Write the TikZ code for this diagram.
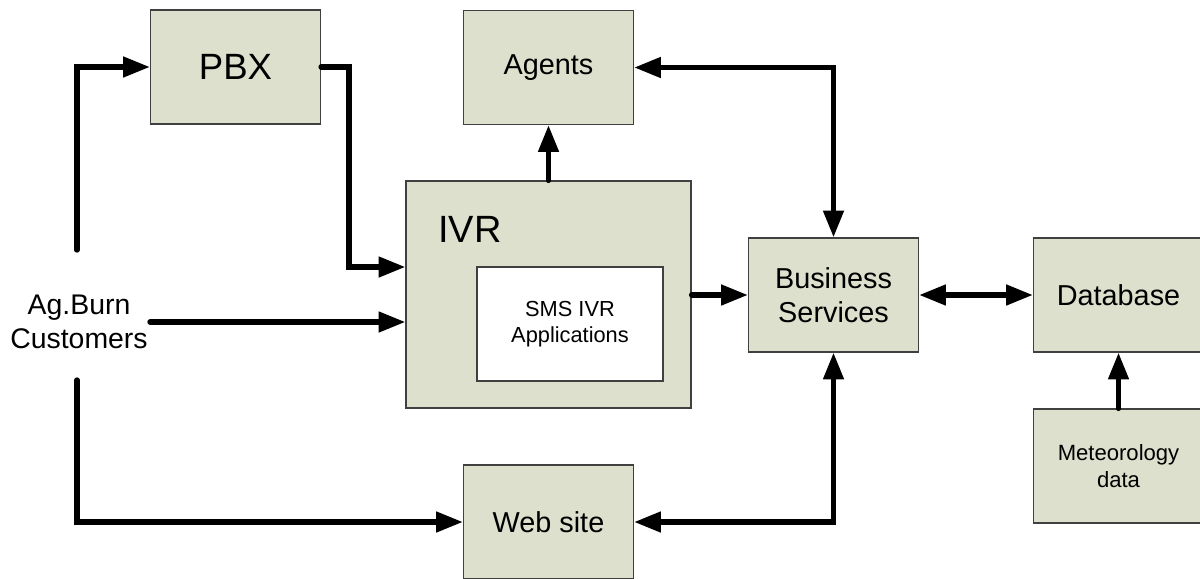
\documentclass[tikz,border=0pt]{standalone}
\usepackage{fontspec}
\setmainfont{Liberation Sans}
\usetikzlibrary{arrows.meta}
\definecolor{boxgreen}{RGB}{221,224,204}
\tikzset{
  box/.style={draw=black!75,line width=0.8pt,fill=boxgreen,minimum width=4.25cm,minimum height=2.85cm,inner sep=0pt,align=center,font=\fontsize{20.5}{24}\selectfont},
  link/.style={line width=3.8pt,line cap=round,-{Triangle[length=19pt,width=14pt]}},
  twolink/.style={line width=3.8pt,line cap=round,{Triangle[length=19pt,width=14pt]}-{Triangle[length=19pt,width=14pt]}}
}
\begin{document}
\begin{tikzpicture}[x=0.025cm,y=-0.025cm]
\useasboundingbox (0,0) rectangle (1200,578);
% Nodi a sinistra
\node[box,font=\fontsize{26}{30}\selectfont](node pbx) at (235.5,67){PBX};
\node[box](node agents) at (548.5,67.5){Agents};
% Nodo IVR con applicazioni
\node[box,minimum width=7.125cm,minimum height=5.675cm](node ivr) at (548.5,294.5){};
\node[font=\fontsize{27}{30}\selectfont](ivr label) at (470,229){IVR};
\node[box,fill=white,minimum width=4.65cm,font=\fontsize{15.5}{18.5}\selectfont](node sms) at (570,324){SMS IVR\\Applications};
% Nodi a destra
\node[box](node bus) at (833.5,295){Business\\Services};
\node[box](node db) at (1118.5,295){Database};
\node[box,font=\fontsize{15.7}{19}\selectfont](node meteo) at (1118.5,466){Meteorology\\data};
\node[box](node web) at (548.5,522){Web site};
% Clienti
\node[align=center,font=\fontsize{20.2}{24}\selectfont](node cust) at (79,322){Ag.Burn\\Customers};
\coordinate (cust up) at (77,250);
\coordinate (cust right) at (150,322);
\coordinate (cust down) at (77,380);

\draw[link](cust up)|-(node pbx);
\draw[link](node pbx.east)-|(349,200)|-(node ivr.west|-0,267);
\draw[link](cust right)--(node ivr.west|-cust right);
\draw[link](cust down)|-(node web);
\draw[link](node ivr.north-|node agents)--(node agents);
\draw[twolink](node agents)-|(node bus);
\draw[link](node ivr.east|-node bus)--(node bus);
\draw[twolink](node bus)--(node db);
\draw[link](node meteo)--(node db);
\draw[twolink](node web)-|(node bus);
\end{tikzpicture}
\end{document}
